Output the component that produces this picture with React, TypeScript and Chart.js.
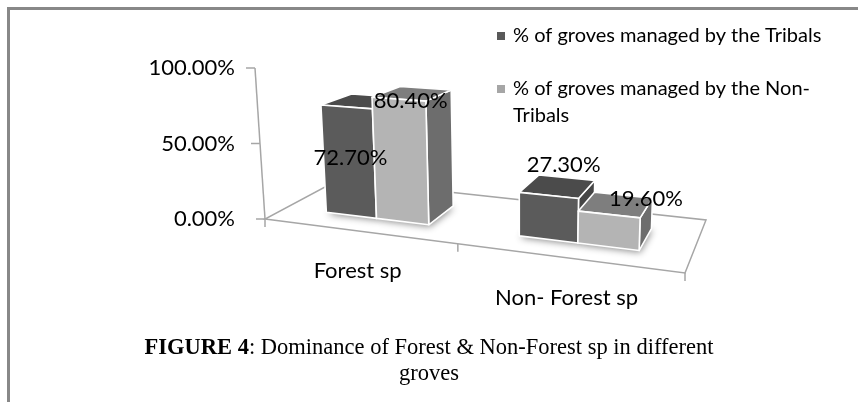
import React, { useEffect, useRef } from 'react';
import { Chart, registerables } from 'chart.js';

Chart.register(...registerables);

// ---------- data ----------
const categories = ['Forest sp', 'Non- Forest sp'];
const seriesNames = ['% of groves managed by the Tribals', '% of groves managed by the Non-Tribals'];
const tribalsShare = [0.727, 0.273];
const nonTribalsShare = [0.804, 0.196];
const yAxisMin = 0;
const yAxisMax = 1;
const yAxisStep = 0.5;

// ---------- style / layout ----------
const SANS = 'Lato, "Open Sans", "DejaVu Sans", sans-serif';
const AXIS_FONT_SIZE = 22;
const LEGEND_FONT_SIZE = 20;
const FACE_COLORS = [
  { front: '#5b5b5b', top: '#4b4b4b', side: '#454545', key: '#595959' },
  { front: '#b4b4b4', top: '#7e7e7e', side: '#6d6d6d', key: '#a6a6a6' },
];
const FLOOR_CORNERS = [
  [265, 219], // front-left
  [685, 273], // front-right
  [706, 220], // back-right
  [338, 180], // back-left
];
const DEPTH_FRONT = 0.27;
const DEPTH_BACK = 0.7;
const VANISH_X = 520;
const VANISH_D = 3850;
const LABEL_NUDGE = [
  [[4, 51], [15, -31]],
  [[12, 2], [37, -16]],
];

function makeHomography(p0: number[], p1: number[], p2: number[], p3: number[]) {
  const dx1 = p1[0] - p2[0], dx2 = p3[0] - p2[0], sx = p0[0] - p1[0] + p2[0] - p3[0];
  const dy1 = p1[1] - p2[1], dy2 = p3[1] - p2[1], sy = p0[1] - p1[1] + p2[1] - p3[1];
  const det = dx1 * dy2 - dx2 * dy1;
  const g = (sx * dy2 - dx2 * sy) / det;
  const h = (dx1 * sy - sx * dy1) / det;
  const a = p1[0] - p0[0] + g * p1[0], b = p3[0] - p0[0] + h * p3[0], c = p0[0];
  const d = p1[1] - p0[1] + g * p1[1], e = p3[1] - p0[1] + h * p3[1], f = p0[1];
  return (u: number, w: number) => {
    const den = g * u + h * w + 1;
    return [(a * u + b * w + c) / den, (d * u + e * w + f) / den, 1 / den];
  };
}

const floorMap = makeHomography(FLOOR_CORNERS[0], FLOOR_CORNERS[1], FLOOR_CORNERS[2], FLOOR_CORNERS[3]);

// u: along categories (0..1), w: depth (0 front..1 back), hf: flat pixel height from y scale
function project(u: number, w: number, hf: number) {
  const [x, y, s] = floorMap(u, w);
  const hh = hf * s;
  return [x + ((x - VANISH_X) * hh) / VANISH_D, y - hh];
}

function wrapText(ctx: CanvasRenderingContext2D, text: string, maxWidth: number) {
  const tokens: { t: string; sep: string }[] = [];
  text.split(' ').forEach((word, wi) => {
    const parts = word.split(/(?<=-)/);
    parts.forEach((p, pi) => tokens.push({ t: p, sep: wi > 0 && pi === 0 ? ' ' : '' }));
  });
  const lines: string[] = [];
  let cur = '';
  tokens.forEach((tk) => {
    const cand = cur === '' ? tk.t : cur + tk.sep + tk.t;
    if (cur !== '' && ctx.measureText(cand).width > maxWidth) {
      lines.push(cur);
      cur = tk.t;
    } else cur = cand;
  });
  if (cur) lines.push(cur);
  return lines;
}

const threeDPlugin = {
  id: 'threeD',
  beforeDatasetsDraw(chart: any) {
    const ctx: CanvasRenderingContext2D = chart.ctx;
    const area = chart.chartArea;
    const xs = chart.scales.x;
    const ys = chart.scales.y;
    const toU = (px: number) => (px - area.left) / (area.right - area.left);
    const base = ys.getPixelForValue(0);
    const hFor = (v: number) => base - ys.getPixelForValue(v);

    ctx.save();
    // floor outline
    const fl = project(0, 0, 0), fr = project(1, 0, 0), br = project(1, 1, 0), bl = project(0, 1, 0);
    ctx.strokeStyle = '#a6a6a6';
    ctx.lineWidth = 1.5;
    ctx.beginPath();
    ctx.moveTo(fl[0], fl[1]);
    ctx.lineTo(fr[0], fr[1]);
    ctx.lineTo(br[0], br[1]);
    ctx.lineTo(bl[0], bl[1]);
    ctx.closePath();
    ctx.stroke();

    // value axis
    const top = project(0, 0, hFor(yAxisMax));
    ctx.beginPath();
    ctx.moveTo(fl[0], fl[1]);
    ctx.lineTo(top[0], top[1]);
    ctx.stroke();
    ys.ticks.forEach((t: any) => {
      const p = project(0, 0, hFor(t.value));
      ctx.beginPath();
      ctx.moveTo(p[0], p[1]);
      ctx.lineTo(p[0] - 9, p[1]);
      ctx.stroke();
    });

    // category axis tick marks at category boundaries
    const n = categories.length;
    const bounds: number[] = [area.left];
    for (let i = 0; i < n - 1; i++) bounds.push((xs.getPixelForValue(i) + xs.getPixelForValue(i + 1)) / 2);
    bounds.push(area.right);
    bounds.forEach((bx) => {
      const p = project(toU(bx), 0, 0);
      ctx.beginPath();
      ctx.moveTo(p[0], p[1]);
      ctx.lineTo(p[0], p[1] + 8);
      ctx.stroke();
    });

    // category labels
    ctx.fillStyle = '#000';
    ctx.font = `${AXIS_FONT_SIZE}px ${SANS}`;
    ctx.textAlign = 'center';
    ctx.textBaseline = 'middle';
    categories.forEach((lab, i) => {
      const p = project(toU(xs.getPixelForValue(i)), 0, 0);
      ctx.fillText(lab, p[0], p[1] + 40);
    });

    // bars
    const metas = chart.data.datasets.map((_: any, j: number) => chart.getDatasetMeta(j));
    const boxes: any[] = [];
    for (let i = 0; i < n; i++) {
      metas.forEach((meta: any, j: number) => {
        const el = meta.data[i];
        const { x, y, base: b, width } = el.getProps(['x', 'y', 'base', 'width'], true);
        const u0 = toU(x - width / 2), u1 = toU(x + width / 2);
        const hf = b - y;
        const A = project(u0, DEPTH_FRONT, 0), B = project(u1, DEPTH_FRONT, 0);
        const C = project(u1, DEPTH_FRONT, hf), D = project(u0, DEPTH_FRONT, hf);
        const E = project(u0, DEPTH_BACK, 0), F = project(u1, DEPTH_BACK, 0);
        const G = project(u1, DEPTH_BACK, hf), H = project(u0, DEPTH_BACK, hf);
        boxes.push({ i, j, u0, u1, hf, A, B, C, D, E, F, G, H });
      });
    }

    // soft shadows around the footprints
    boxes.forEach((bx) => {
      ctx.save();
      ctx.shadowColor = 'rgba(0,0,0,0.45)';
      ctx.shadowBlur = 7;
      ctx.shadowOffsetX = 1;
      ctx.shadowOffsetY = 2;
      ctx.fillStyle = '#ffffff';
      ctx.beginPath();
      [bx.A, bx.B, bx.F, bx.E].forEach((p: number[], k: number) => (k ? ctx.lineTo(p[0], p[1]) : ctx.moveTo(p[0], p[1])));
      ctx.closePath();
      ctx.fill();
      ctx.restore();
    });

    const face = (pts: number[][], fill: string) => {
      let s = 0;
      for (let k = 0; k < pts.length; k++) {
        const p = pts[k], q = pts[(k + 1) % pts.length];
        s += p[0] * q[1] - q[0] * p[1];
      }
      if (s >= -0.01) return;
      ctx.beginPath();
      pts.forEach((p, k) => (k ? ctx.lineTo(p[0], p[1]) : ctx.moveTo(p[0], p[1])));
      ctx.closePath();
      ctx.fillStyle = fill;
      ctx.fill();
      ctx.strokeStyle = '#ffffff';
      ctx.lineWidth = 1.6;
      ctx.lineJoin = 'round';
      ctx.stroke();
    };

    boxes.forEach((bx) => {
      const col = FACE_COLORS[bx.j];
      face([bx.E, bx.A, bx.D, bx.H], col.side); // left side
      face([bx.B, bx.F, bx.G, bx.C], col.side); // right side
      face([bx.D, bx.C, bx.G, bx.H], col.top); // top
      face([bx.A, bx.B, bx.C, bx.D], col.front); // front
    });

    // data labels
    ctx.fillStyle = '#000';
    ctx.font = `${AXIS_FONT_SIZE}px ${SANS}`;
    ctx.textAlign = 'center';
    ctx.textBaseline = 'middle';
    boxes.forEach((bx) => {
      const v = chart.data.datasets[bx.j].data[bx.i];
      const p = project((bx.u0 + bx.u1) / 2, DEPTH_FRONT, bx.hf);
      const nudge = LABEL_NUDGE[bx.j][bx.i];
      ctx.fillText((v * 100).toFixed(2) + '%', p[0] + nudge[0], p[1] + nudge[1]);
    });

    // legend
    ctx.font = `${LEGEND_FONT_SIZE}px ${SANS}`;
    ctx.textAlign = 'left';
    ctx.textBaseline = 'middle';
    const legendX = 497;
    let ly = 36;
    chart.data.datasets.forEach((ds: any, j: number) => {
      ctx.fillStyle = FACE_COLORS[j].key;
      ctx.fillRect(legendX, ly - 4, 8, 8);
      ctx.fillStyle = '#000';
      const lines = wrapText(ctx, ds.label, 858 - legendX - 16 - 14);
      lines.forEach((ln, k) => ctx.fillText(ln, legendX + 16, ly + k * 27));
      ly += lines.length * 27 + 26;
    });

    ctx.restore();
    return false;
  },
};

export default function App() {
  const ref = useRef<HTMLCanvasElement>(null);
  useEffect(() => {
    if (!ref.current) return;
    const chart = new Chart(ref.current, {
      type: 'bar',
      data: {
        labels: categories,
        datasets: [
          { label: seriesNames[0], data: tribalsShare, backgroundColor: FACE_COLORS[0].front },
          { label: seriesNames[1], data: nonTribalsShare, backgroundColor: FACE_COLORS[1].front },
        ],
      },
      options: {
        responsive: false,
        animation: false,
        devicePixelRatio: 1,
        layout: { padding: { top: 68, bottom: 183, left: 0, right: 158 } },
        datasets: { bar: { categoryPercentage: 0.55, barPercentage: 1 } },
        plugins: { legend: { display: false }, tooltip: { enabled: false } },
        scales: {
          x: { display: false },
          y: {
            min: yAxisMin,
            max: yAxisMax,
            ticks: {
              stepSize: yAxisStep,
              color: '#000',
              font: { family: SANS, size: AXIS_FONT_SIZE },
              padding: 10,
              callback: (v: any) => (Number(v) * 100).toFixed(2) + '%',
            },
            grid: { display: false, drawTicks: false },
            border: { display: false },
            afterFit: (s: any) => {
              s.width = 245;
            },
          },
        },
      },
      plugins: [threeDPlugin],
    } as any);
    return () => chart.destroy();
  }, []);

  return (
    <div style={{ position: 'fixed', left: 0, top: 0, width: 858, height: 402, background: '#fff', overflow: 'hidden' }}>
      <div style={{ position: 'absolute', left: 7, top: 7, width: 851, height: 3, background: '#888' }} />
      <div style={{ position: 'absolute', left: 7, top: 7, width: 3, height: 395, background: '#888' }} />
      <canvas ref={ref} width={858} height={402} style={{ position: 'absolute', left: 0, top: 0, width: 858, height: 402 }} />
      <div
        style={{
          position: 'absolute',
          left: 0,
          top: 334,
          width: 858,
          textAlign: 'center',
          fontFamily: '"Liberation Serif", "Times New Roman", serif',
          fontSize: 22.5,
          lineHeight: '26px',
          color: '#000',
        }}
      >
        <b>FIGURE 4</b>: Dominance of Forest &amp; Non-Forest sp in different
        <br />
        groves
      </div>
    </div>
  );
}
